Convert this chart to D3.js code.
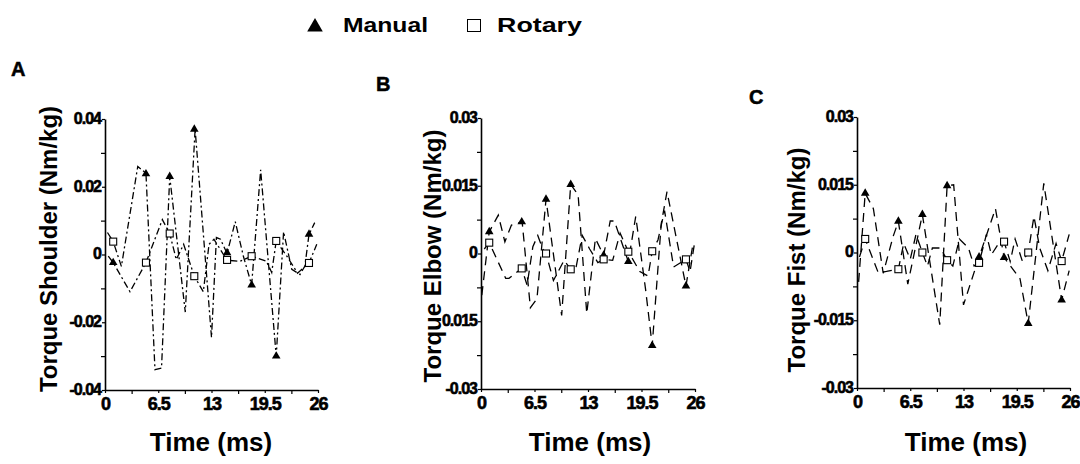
<!DOCTYPE html>
<html><head><meta charset="utf-8">
<script src="https://cdn.jsdelivr.net/npm/d3@7"></script>
<style>body{margin:0;background:#fff}svg{display:block}</style>
</head><body><svg id="c" width="1080" height="464"></svg>
<script>
// ---------- DATA ----------
const legendLabels = ["Manual", "Rotary"];
const panelLetters = ["A", "B", "C"];
const yTitles = ["Torque Shoulder (Nm/kg)", "Torque Elbow (Nm/kg)", "Torque Fist (Nm/kg)"];
const xTitle = "Time (ms)";
const xTicks = [0, 6.5, 13, 19.5, 26];
const xTickLabels = ["0", "6.5", "13", "19.5", "26"];
const xMinor = [3.25, 9.75, 16.25, 22.75];

const yTicksA = [-0.04, -0.02, 0, 0.02, 0.04];
const yTickLabelsA = ["-0.04", "-0.02", "0", "0.02", "0.04"];
const yMinorA = [-0.03, -0.01, 0.01, 0.03];
const yTicksB = [-0.03, -0.015, 0, 0.015, 0.03];
const yTickLabelsB = ["-0.03", "0.015", "0", "0.015", "0.03"];
const yTicksC = [-0.03, -0.015, 0, 0.015, 0.03];
const yTickLabelsC = ["-0.03", "-0.015", "0", "0.015", "0.03"];
const yMinorBC = [-0.0225, -0.0075, 0.0075, 0.0225];

// Panel A - shoulder
const aManT = [0.3, 1.0, 2.0, 4.0, 5.0, 6.1, 6.9, 7.9, 9.8, 11.0, 13.0, 13.6, 14.1, 14.9, 15.9, 16.9, 17.9, 19.0, 20.9, 21.8, 22.8, 23.8, 24.4, 24.9, 25.6];
const aManV = [0.0065, 0.0038, -0.0035, 0.026, 0.024, -0.034, -0.0335, 0.023, -0.017, 0.037, -0.0245, 0.005, 0.0045, 0.0003, 0.0097, -0.0006, -0.009, 0.025, -0.030, 0.0067, -0.0044, -0.0059, -0.0034, 0.0059, 0.0094];
const aRotT = [0.4, 1.0, 3.05, 5.0, 7.0, 7.9, 8.7, 9.6, 10.9, 12.0, 12.7, 13.3, 14.9, 16.5, 17.9, 19.7, 20.35, 20.9, 22.2, 23.5, 24.9, 25.85];
const aRotV = [-0.0005, -0.0024, -0.011, -0.0024, 0.0103, 0.0062, -0.0015, 0.003, -0.0064, -0.011, 0.003, 0.0045, -0.0017, -0.002, -0.0005, -0.002, -0.0053, 0.004, -0.0005, -0.0055, -0.0025, 0.003];
const aMarkT = [1.0, 5.0, 7.9, 10.9, 14.9, 17.9, 20.9, 24.9];
const aMarkMan = [-0.0024, 0.0238, 0.023, 0.037, 0.0005, -0.009, -0.030, 0.006];
const aMarkRot = [0.0038, -0.0024, 0.0062, -0.0064, -0.0016, -0.0005, 0.004, -0.0025];

// Panel B - elbow
const bManT = [0.1, 1.0, 2.1, 2.9, 3.7, 5.0, 6.0, 6.8, 7.9, 9.8, 10.9, 11.8, 12.85, 13.9, 14.9, 15.7, 16.2, 17.9, 18.8, 20.0, 20.8, 21.9, 22.6, 24.9, 25.8];
const bManV = [-0.0092, 0.0048, 0.0085, 0.0026, 0.0063, 0.007, -0.012, -0.010, 0.012, -0.0137, 0.0153, 0.013, -0.0133, 0.0033, -0.0004, 0.0072, 0.0072, -0.0018, 0.0082, -0.008, -0.0204, 0.0066, 0.0137, -0.0072, 0.0026];
const bRotT = [0.4, 1.0, 3.0, 3.4, 4.95, 5.6, 6.3, 6.9, 7.5, 7.9, 8.8, 10.1, 10.9, 11.5, 12.3, 13.2, 14.2, 14.9, 16.0, 16.9, 17.9, 19.3, 20.3, 20.8, 21.5, 22.3, 23.4, 24.9, 25.4, 25.9];
const bRotV = [0.001, 0.0024, -0.0055, -0.0055, -0.0033, -0.007, 0.0015, 0.004, 0.001, 0.0, -0.006, -0.0015, -0.0035, -0.0035, 0.004, 0.001, -0.002, -0.0013, -0.0015, 0.0045, 0.0004, -0.004, -0.005, 0.0005, 0.003, 0.0095, -0.003, -0.0013, -0.004, 0.0018];
const bMarkT = [1.0, 4.95, 7.9, 10.9, 14.9, 17.9, 20.8, 24.9];
const bMarkMan = [0.0048, 0.007, 0.012, 0.0153, -0.0004, -0.0018, -0.0204, -0.0072];
const bMarkRot = [0.0024, -0.0033, 0.0, -0.0035, -0.0013, 0.0004, 0.0005, -0.0013];

// Panel C - fist
const cManT = [0.2, 1.0, 2.0, 3.2, 4.4, 5.05, 6.2, 7.98, 10.1, 11.0, 11.8, 13.0, 14.9, 16.9, 17.95, 19.9, 20.9, 22.8, 24.98, 25.9];
const cManV = [-0.0065, 0.0131, 0.0097, -0.0046, 0.0035, 0.0069, -0.007, 0.0084, -0.016, 0.0148, 0.015, -0.0116, -0.001, 0.0097, -0.0011, -0.0058, -0.0157, 0.0153, -0.0105, -0.004];
const cRotT = [0.3, 1.0, 2.6, 3.6, 5.05, 5.7, 6.5, 7.2, 7.98, 8.6, 9.2, 10.2, 11.0, 11.7, 12.5, 13.6, 14.3, 14.9, 15.8, 16.4, 17.3, 17.95, 18.7, 19.3, 20.2, 20.9, 21.6, 22.3, 23.3, 24.3, 24.98, 25.9];
const cRotV = [-0.001, 0.003, -0.0045, -0.0042, -0.0037, 0.002, -0.0015, 0.004, 0.0, -0.003, 0.001, 0.001, -0.0017, -0.003, 0.003, 0.001, -0.003, -0.0023, 0.004, -0.0005, 0.002, 0.0024, -0.002, 0.003, -0.002, 0.0, 0.008, 0.001, -0.004, 0.002, -0.0019, 0.004];
const cMarkT = [1.0, 5.05, 7.98, 11.0, 14.9, 17.95, 20.9, 24.98];
const cMarkMan = [0.0131, 0.0069, 0.0084, 0.0148, -0.001, -0.0011, -0.0157, -0.0105];
const cMarkRot = [0.003, -0.0037, 0.0, -0.0017, -0.0023, 0.0024, 0.0, -0.0019];

// ---------- LAYOUT ----------
const FONT = "'Liberation Sans', Arial, Helvetica, sans-serif";
const svg = d3.select("#c");

const panels = [
  {letter: panelLetters[0], title: yTitles[0], x0: 105, x1: 318, yTop: 119, yBot: 390, dom: [-0.04, 0.04],
   ticks: yTicksA, labels: yTickLabelsA, minor: yMinorA, dash: "7,3,2,3",
   man: [aManT, aManV], rot: [aRotT, aRotV], mk: [aMarkT, aMarkMan, aMarkRot],
   letterPos: [11, 76], titleX: 57, titleY: 249, xTitleX: 211},
  {letter: panelLetters[1], title: yTitles[1], x0: 481, x1: 695, yTop: 118, yBot: 389, dom: [-0.03, 0.03],
   ticks: yTicksB, labels: yTickLabelsB, minor: yMinorBC, dash: "9,6",
   man: [bManT, bManV], rot: [bRotT, bRotV], mk: [bMarkT, bMarkMan, bMarkRot],
   letterPos: [376, 91], titleX: 441, titleY: 256, xTitleX: 590},
  {letter: panelLetters[2], title: yTitles[2], x0: 857, x1: 1070, yTop: 117, yBot: 388, dom: [-0.03, 0.03],
   ticks: yTicksC, labels: yTickLabelsC, minor: yMinorBC, dash: "9,6",
   man: [cManT, cManV], rot: [cRotT, cRotV], mk: [cMarkT, cMarkMan, cMarkRot],
   letterPos: [749, 104], titleX: 805, titleY: 260, xTitleX: 966}
];

panels.forEach(p => {
  const x = d3.scaleLinear().domain([0, 26]).range([p.x0, p.x1]);
  const y = d3.scaleLinear().domain(p.dom).range([p.yBot, p.yTop]);
  const g = svg.append("g");

  // minor ticks
  g.append("g").attr("transform", `translate(${p.x0},0)`)
    .call(d3.axisLeft(y).tickValues(p.minor).tickSize(4).tickFormat(""))
    .call(s => s.select(".domain").remove());
  g.append("g").attr("transform", `translate(0,${p.yBot})`)
    .call(d3.axisBottom(x).tickValues(xMinor).tickSize(4).tickFormat(""))
    .call(s => s.select(".domain").remove());

  // major axes
  const ya = g.append("g").attr("transform", `translate(${p.x0},0)`)
    .call(d3.axisLeft(y).tickValues(p.ticks).tickSize(3).tickSizeOuter(0).tickPadding(1)
      .tickFormat((d, i) => p.labels[i]));
  ya.selectAll("text").attr("font-family", FONT).attr("font-size", 16).attr("font-weight", "bold")
    .attr("letter-spacing", "-1px").attr("fill", "#000").attr("stroke", "#000").attr("stroke-width", 0.6)
    .attr("dy", "0.28em");
  const xa = g.append("g").attr("transform", `translate(0,${p.yBot})`)
    .call(d3.axisBottom(x).tickValues(xTicks).tickSize(3).tickSizeOuter(0).tickPadding(4)
      .tickFormat((d, i) => xTickLabels[i]));
  xa.selectAll("text").attr("font-family", FONT).attr("font-size", 18).attr("font-weight", "bold")
    .attr("letter-spacing", "-1px").attr("fill", "#000").attr("stroke", "#000").attr("stroke-width", 0.6);
  g.selectAll(".domain").attr("stroke", "#000").attr("stroke-width", 1.6);
  g.selectAll(".tick line").attr("stroke", "#000").attr("stroke-width", 1.2);

  // lines
  const line = d3.line().x(d => x(d[0])).y(d => y(d[1]));
  [p.man, p.rot].forEach(s => {
    const pts = s[0].map((t, i) => [t, s[1][i]]);
    g.append("path").attr("d", line(pts)).attr("fill", "none").attr("stroke", "#000")
      .attr("stroke-width", 1.3).attr("stroke-dasharray", p.dash);
  });

  // markers
  const tri = d3.symbol().type(d3.symbolTriangle).size(32);
  p.mk[0].forEach((t, i) => {
    g.append("path").attr("d", tri()).attr("transform", `translate(${x(t)},${y(p.mk[1][i])})`)
      .attr("fill", "#000");
    g.append("rect").attr("x", x(t) - 3.5).attr("y", y(p.mk[2][i]) - 3.5).attr("width", 7).attr("height", 7)
      .attr("fill", "#fff").attr("stroke", "#000").attr("stroke-width", 1.1);
  });

  // titles
  svg.append("text").attr("x", p.letterPos[0]).attr("y", p.letterPos[1]).text(p.letter)
    .attr("font-family", FONT).attr("font-size", 20).attr("font-weight", "bold")
    .attr("stroke", "#000").attr("stroke-width", 0.5);
  svg.append("text").attr("transform", `translate(${p.titleX},${p.titleY}) rotate(-90)`)
    .attr("text-anchor", "middle").text(p.title)
    .attr("font-family", FONT).attr("font-size", 24).attr("font-weight", "bold");
  svg.append("text").attr("x", p.xTitleX).attr("y", 451).attr("text-anchor", "middle").text(xTitle)
    .attr("font-family", FONT).attr("font-size", 26).attr("font-weight", "bold");
});

// legend
const lg = svg.append("g");
lg.append("path").attr("d", d3.symbol().type(d3.symbolTriangle).size(105)())
  .attr("transform", "translate(315,27)").attr("fill", "#000");
lg.append("text").attr("x", 343).attr("y", 32).text(legendLabels[0])
  .attr("font-family", FONT).attr("font-size", 20).attr("font-weight", "bold")
  .attr("textLength", 85).attr("lengthAdjust", "spacingAndGlyphs");
lg.append("rect").attr("x", 467.5).attr("y", 19.5).attr("width", 13).attr("height", 12)
  .attr("fill", "#fff").attr("stroke", "#000").attr("stroke-width", 1);
lg.append("text").attr("x", 497).attr("y", 32).text(legendLabels[1])
  .attr("font-family", FONT).attr("font-size", 20).attr("font-weight", "bold")
  .attr("textLength", 85).attr("lengthAdjust", "spacingAndGlyphs");
</script></body></html>
